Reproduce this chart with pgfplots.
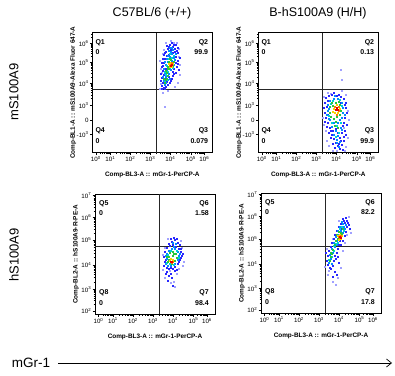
\documentclass[border=0pt]{standalone}
\usepackage{fontspec}
\setmainfont{Liberation Sans}
\usepackage{pgfplots}
\pgfplotsset{compat=1.18}
\usetikzlibrary{arrows.meta}
\definecolor{d0}{RGB}{160,160,255}
\definecolor{d1}{RGB}{40,40,255}
\definecolor{d2}{RGB}{0,140,255}
\definecolor{d3}{RGB}{0,210,210}
\definecolor{d4}{RGB}{40,200,60}
\definecolor{d5}{RGB}{250,210,0}
\definecolor{d6}{RGB}{255,120,0}
\definecolor{d7}{RGB}{225,0,0}
\newcommand\tp[1]{10\textsuperscript{#1}}
\newcommand\pts[2]{\addplot[only marks, mark=square*, mark size=0.65pt, color=#1, mark options={line width=0pt}] coordinates {#2};}
\newcommand\qlab[3]{\node[anchor=#1, font=\bfseries\fontsize{7}{8}\selectfont, inner sep=0pt] at (axis cs:#2) {#3};}
\pgfplotsset{
  facs/.style={scale only axis, width=120pt, height=120pt,
    xmin=0, xmax=120, ymin=0, ymax=120,
    axis line style={line width=0.6pt},
    tick align=outside, xtick pos=left, ytick pos=left,
    major tick length=2.5pt, minor tick length=1.4pt,
    every tick/.style={black, line width=0.5pt},
    tick label style={font=\fontsize{6.2}{7}\selectfont, inner sep=1pt},
    xtick={3.5,18,38,58,78,98.5,112},
    xticklabels={\tp{0},\tp{1},\tp{2},\tp{3},\tp{4},\tp{5},\tp{6}},
    minor xtick={7.9,10.4,12.2,13.6,14.8,15.8,16.6,17.3,24,27.5,30,32,33.6,34.9,36.1,37.1,44,47.5,50,52,53.6,54.9,56.1,57.1,64,67.5,70,72,73.6,74.9,76.1,77.1,84,87.5,90,92,93.6,94.9,96.1,97.1,102.6,104.9,106.6,107.9,109,109.9,110.7,111.4},
    xlabel={Comp-BL3-A :: mGr-1-PerCP-A},
    xlabel style={at={(axis description cs:0.5,-0.185)}, anchor=center, font=\bfseries\fontsize{6.4}{7}\selectfont},
    ylabel style={at={(axis description cs:-0.158,0.5)}, anchor=center, font=\bfseries\fontsize{6.4}{7}\selectfont},
  },
  facstop/.style={facs,
    ytick={18.4,32.7,47.4,69.4,90.4,109.4},
    yticklabels={-\tp{3},0,\tp{3},\tp{4},\tp{5},\tp{6}},
    minor ytick={54.0,57.9,60.6,62.8,64.5,66.0,67.3,68.4,75.7,79.4,82.0,84.1,85.7,87.1,88.4,89.4,96.1,99.5,101.8,103.7,105.2,106.5,107.6,108.5,115.4,118.9},
    ylabel={Comp-BL1-A :: mS100A9-Alexa Fluor 647-A}},
  facsbot/.style={facs,
    ytick={3.3,25,49.3,74.3,97,118.6},
    yticklabels={\tp{2},\tp{3},\tp{4},\tp{5},\tp{6},\tp{7}},
    minor ytick={9.8,13.7,16.4,18.5,20.2,21.6,22.9,24.0,32.3,36.6,39.6,42.0,43.9,45.5,46.9,48.2,56.8,61.2,64.4,66.8,68.8,70.4,71.9,73.2,81.1,85.1,88.0,90.2,92.0,93.5,94.8,96.0,103.5,107.3,110.0,112.1,113.8,115.3,116.5,117.6},
    ylabel={Comp-BL2-A :: hS100A9-R-PE-A}},
}
\begin{document}
\begin{tikzpicture}
\path[use as bounding box] (0,0) rectangle (395pt,375pt);
% headers
\node[font=\fontsize{12.5}{14}\selectfont] at (152pt,362pt) {C57BL/6 (+/+)};
\node[font=\fontsize{12.5}{14}\selectfont] at (318pt,362pt) {B-hS100A9 (H/H)};
\node[font=\fontsize{13}{14}\selectfont, rotate=90] at (14pt,283pt) {mS100A9};
\node[font=\fontsize{13}{14}\selectfont, rotate=90] at (14pt,120pt) {hS100A9};
\node[font=\fontsize{13.5}{14}\selectfont] at (31pt,12pt) {mGr-1};
\draw[line width=0.7pt, -{Straight Barb[length=5pt, width=8pt]}] (58pt,12pt) -- (392pt,12pt);

% Panel 1
\begin{axis}[facstop, at={(92.3pt,222.3pt)}, anchor=south west]
\pts{d0}{(68,64) (71,60) (73,46) (76,62) (86,70) (88,88) (68,92) (72,103) (87,104) (79,112) (85,110) (70,80) (83,66) (69,69) (87,96) (74,110) (88,78) (69,84) (71,99) (82,110)}
\pts{d1}{(70,67) (72,65) (74,66) (76,68) (71,70) (69,72) (75,71) (78,70) (70,75) (73,74) (77,76) (80,74) (69,79) (71,82) (82,79) (84,80) (70,86) (72,90) (85,86) (87,83) (73,94) (72,98) (86,92) (84,96) (74,101) (76,104) (83,101) (86,100) (75,107) (78,108) (81,106) (84,108) (86,105) (80,110) (77,98) (79,103) (88,95) (81,100) (83,104) (74,84) (70,90) (82,84) (84,90) (72,78) (71,94) (75,97) (79,72) (81,77) (70,64) (73,63.8) (77,106) (82,108) (85,102) (73,100) (86,89) (71,87) (81,81)}
\pts{d2}{(73,68) (74,70) (72,72) (76,73) (74,76) (77,79) (73,79) (75,82) (79,83) (74,88) (76,91) (80,92) (82,88) (78,96) (76,97) (80,99) (82,95) (79,101) (77,102) (81,103) (72,84) (83,93) (73,91) (78,105) (71,76) (78,74) (75,94) (84,99) (80,105)}
\pts{d3}{(73,71) (75,73) (74,78) (76,81) (78,85) (75,87) (81,85) (80,95) (78,99) (77,94) (73,81) (82,97)}
\pts{d4}{(73,70) (75,74) (74,73) (76,77) (75,80) (77,84) (76,86) (78,88) (80,89) (77,91) (79,93) (82,91) (78,94) (81,87) (72,74) (76,84) (74,82)}
\pts{d5}{(78,86) (79,90) (77,89) (81,89) (80,86)}
\pts{d6}{(79,88) (80,90) (78,87)}
\pts{d7}{(79,87) (80,88)}
\addplot[black!85, line width=0.8pt] coordinates {(64,0) (64,120)};
\addplot[black!85, line width=0.8pt] coordinates {(0,63.4) (120,63.4)};
\qlab{west}{3,110}{Q1}
\qlab{west}{3,100.5}{0}
\qlab{east}{116,110}{Q2}
\qlab{east}{116,100.5}{99.9}
\qlab{west}{3,21.7}{Q4}
\qlab{west}{3,11.5}{0}
\qlab{east}{116,21.7}{Q3}
\qlab{east}{116,11.5}{0.079}
\end{axis}

% Panel 2
\begin{axis}[facstop, at={(258.3pt,222.3pt)}, anchor=south west]
\pts{d0}{(66,56) (70,60) (88,58) (90,42) (65,35) (68,22) (75,2) (88,6) (90,15) (84,62) (82.7,82.7) (83.4,72.7) (86,25) (69,12) (66,28) (91,33) (87,1.5) (79,1.5) (71,7) (73,59)}
\pts{d1}{(68,55) (71,57) (74,58) (79,57) (83,56) (86,54) (88,50) (67,50) (66,45) (67,40) (68,35) (88,45) (89,40) (87,35) (86,30) (70,30) (72,25) (71,20) (74,18) (76,14) (78,10) (80,7) (82,4) (85,3) (84,8) (86,12) (82,15) (84,20) (87,22) (80,20) (78,24) (73,15) (77,5) (75,9) (89,28) (83,50) (70,52) (76,60) (88,18) (69,46) (70,38) (85,27) (81,9) (73,22) (67,31) (69,26) (75,22) (83,12) (86,16) (81,58) (87,48)}
\pts{d2}{(70,48) (72,52) (76,54) (80,54) (84,50) (85,45) (70,42) (69,38) (85,40) (84,35) (72,33) (76,30) (80,30) (82,33) (74,26) (78,22) (80,17) (79,13) (82,11) (76,18) (71,44) (87,38) (83,25) (77,57) (71,34) (84,23) (81,6) (79,10)}
\pts{d3}{(73,49) (75,52) (84,47) (71,37) (74,30) (83,30) (79,27) (81,20) (78,16) (82,53)}
\pts{d4}{(72,46) (74,50) (78,50) (82,48) (72,40) (73,36) (83,42) (82,38) (76,34) (79,36) (77,27) (80,25) (75,47) (81,51) (78,31)}
\pts{d5}{(76,44) (79,48) (82,44) (77,40) (80,40) (75,41)}
\pts{d6}{(79,38) (81,46) (77,46) (81,42)}
\pts{d7}{(78,43) (80,43) (79,45)}
\addplot[black!85, line width=0.8pt] coordinates {(64,0) (64,120)};
\addplot[black!85, line width=0.8pt] coordinates {(0,63.4) (120,63.4)};
\qlab{west}{3,110}{Q1}
\qlab{west}{3,100.5}{0}
\qlab{east}{116,110}{Q2}
\qlab{east}{116,100.5}{0.13}
\qlab{west}{3,21.7}{Q4}
\qlab{west}{3,11.5}{0}
\qlab{east}{116,21.7}{Q3}
\qlab{east}{116,11.5}{99.9}
\end{axis}

% Panel 3
\begin{axis}[facsbot, at={(95pt,60.7pt)}, anchor=south west]
\pts{d0}{(68,44) (70,66) (87,66) (89,52) (76,31) (79,32) (82,40) (73,75) (86,73) (80,27) (70,36) (68,59) (88,48) (84,45) (75,43)}
\pts{d1}{(69,48) (70,52) (69,57) (70,62) (72,66) (75,68) (78,69) (81,67) (84,65) (86,62) (87,58) (85,54) (83,50) (80,47) (76,46) (72,46) (77,72) (80,74) (83,71) (79,76) (85,69) (74,70) (88,60) (72,42) (74,38) (77,36) (73,33) (78,28) (71,40) (80,43) (76,40) (86,56) (82,44) (82,75) (76,75) (71,54) (78,45) (74,45) (84,52) (86,65)}
\pts{d2}{(71,50) (72,55) (72,60) (74,63) (77,65) (80,65) (83,62) (84,58) (83,54) (80,50) (76,48) (73,48) (79,67) (81,70) (85,60) (71,58) (78,71)}
\pts{d3}{(72,51) (73,59) (76,63) (82,63) (84,56) (79,49) (75,50)}
\pts{d4}{(73,52) (74,57) (75,61) (78,62) (81,60) (82,56) (80,53) (74,54) (78,58) (77,50) (79,60) (72,57)}
\pts{d5}{(76,55) (78,54) (75,53)}
\pts{d6}{(77,51) (78,52)}
\pts{d7}{(76,52) (77,52.5)}
\addplot[black!85, line width=0.8pt] coordinates {(64,0) (64,120)};
\addplot[black!85, line width=0.8pt] coordinates {(0,67.6) (120,67.6)};
\qlab{west}{4,111}{Q5}
\qlab{west}{4,101}{0}
\qlab{east}{114,111}{Q6}
\qlab{east}{114,101}{1.58}
\qlab{west}{4,22}{Q8}
\qlab{west}{4,11.5}{0}
\qlab{east}{114,22}{Q7}
\qlab{east}{114,11.5}{98.4}
\end{axis}

% Panel 4
\begin{axis}[facsbot, at={(261pt,61.7pt)}, anchor=south west]
\pts{d0}{(64,46) (68,42) (66,64) (72,74) (78,92) (88,96) (90,80) (84,70) (77,35) (72,31) (80,45) (75,28) (67,38) (82,62) (86,78)}
\pts{d1}{(67,48) (70,44) (72,47) (66,52) (73,52) (67,57) (74,57) (68,62) (76,60) (70,66) (77,64) (71,70) (80,68) (73,74) (82,72) (74,78) (84,77) (76,82) (85,81) (78,86) (86,86) (80,89) (87,90) (83,92) (88,88) (89,84) (74,41) (76,38) (72,36) (78,50) (65,60) (80,78) (82,94) (85,95) (75,54) (69,45) (78,68) (79,72) (81,84) (84,90) (86,92) (77,56)}
\pts{d2}{(68,50) (70,54) (69,58) (72,60) (71,64) (74,66) (73,70) (76,72) (75,76) (78,78) (77,82) (80,82) (79,86) (83,86) (82,89) (84,84) (82,80) (71,49) (76,68) (85,88) (81,91)}
\pts{d3}{(68,53) (71,56) (73,62) (75,69) (77,70) (79,84) (81,86) (83,82) (73,67)}
\pts{d4}{(69,52) (70,56) (71,59) (72,63) (74,68) (75,72) (77,74) (79,76) (81,79) (80,80) (78,81) (82,84) (70,60) (76,78)}
\pts{d5}{(78,73) (79,78) (81,77) (77,77) (80,74)}
\pts{d6}{(79,75) (80,77) (78,76)}
\pts{d7}{(79,76.5) (80,75.5)}
\addplot[black!85, line width=0.8pt] coordinates {(64.7,0) (64.7,120)};
\addplot[black!85, line width=0.8pt] coordinates {(0,66.6) (120,66.6)};
\qlab{west}{4,111}{Q5}
\qlab{west}{4,101}{0}
\qlab{east}{114,111}{Q6}
\qlab{east}{114,101}{82.2}
\qlab{west}{4,22}{Q8}
\qlab{west}{4,11.5}{0}
\qlab{east}{114,22}{Q7}
\qlab{east}{114,11.5}{17.8}
\end{axis}
\end{tikzpicture}
\end{document}
